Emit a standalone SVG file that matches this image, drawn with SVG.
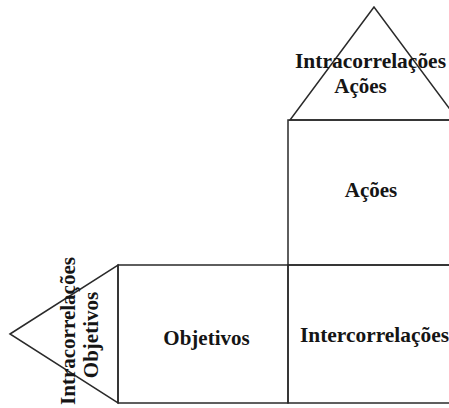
<svg xmlns="http://www.w3.org/2000/svg" width="449" height="408" viewBox="0 0 449 408">
  <style>
    .shape { fill: none; stroke: #2a2a2a; stroke-width: 1.5; }
    .lbl { font-family: "Liberation Serif", "Times New Roman", serif; font-weight: bold; font-size: 21px; fill: #151515; }
  </style>
  <rect width="449" height="408" fill="#ffffff"/>

  <g id="connectors"></g>

  <!-- roof: intra-correlations of actions -->
  <g id="roof-acoes">
    <polygon class="shape" points="374,7 290,120 458,120"/>
    <text class="lbl" x="370.5" y="68" text-anchor="middle" textLength="151" lengthAdjust="spacingAndGlyphs">Intracorrelações</text>
    <text class="lbl" x="360.5" y="93" text-anchor="middle">Ações</text>
  </g>

  <!-- actions room -->
  <g id="acoes">
    <rect class="shape" x="288" y="120" width="164" height="145"/>
    <text class="lbl" x="371" y="197" text-anchor="middle">Ações</text>
  </g>

  <!-- objectives room -->
  <g id="objetivos">
    <rect class="shape" x="118" y="265" width="170" height="138"/>
    <text class="lbl" x="206.5" y="345" text-anchor="middle">Objetivos</text>
  </g>

  <!-- inter-correlations matrix -->
  <g id="intercorrelacoes">
    <rect class="shape" x="288" y="265" width="164" height="138"/>
    <text class="lbl" x="300" y="342" textLength="149" lengthAdjust="spacingAndGlyphs">Intercorrelações</text>
  </g>

  <!-- side wing: intra-correlations of objectives -->
  <g id="wing-objetivos">
    <polygon class="shape" points="10,334 118,265 118,403"/>
    <text class="lbl" transform="translate(75,331) rotate(-90)" text-anchor="middle" textLength="148" lengthAdjust="spacingAndGlyphs">Intracorrelações</text>
    <text class="lbl" transform="translate(98,335) rotate(-90)" text-anchor="middle">Objetivos</text>
  </g>
</svg>
